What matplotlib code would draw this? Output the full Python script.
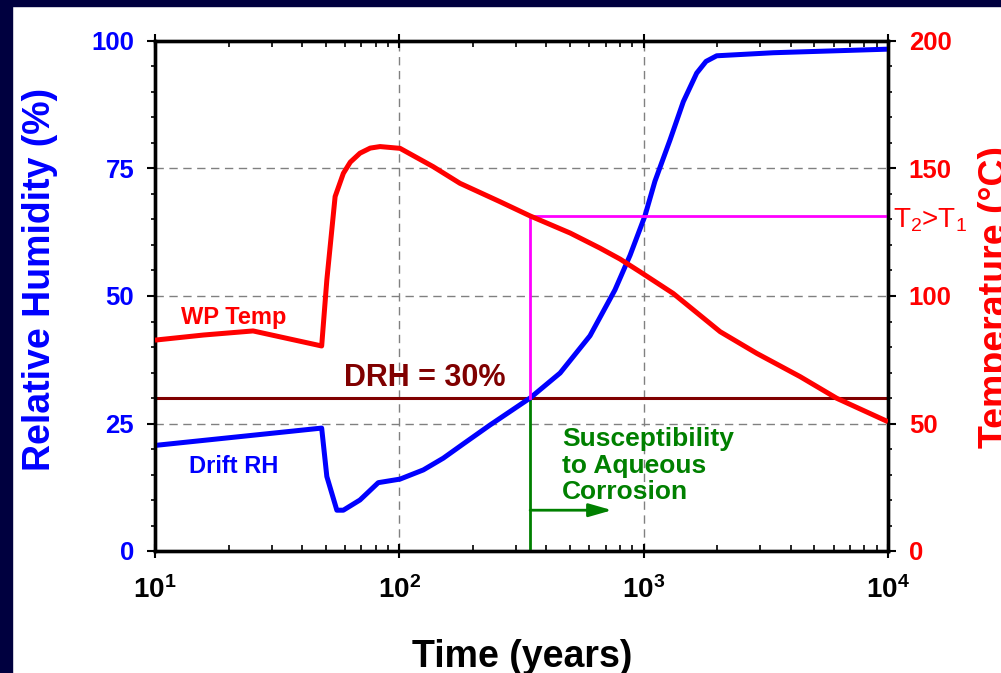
import numpy as np
import matplotlib.pyplot as plt
from matplotlib.patches import Rectangle
from matplotlib.ticker import LogLocator, MultipleLocator, FuncFormatter, NullFormatter

plt.rcParams['font.family'] = ['Liberation Sans', 'DejaVu Sans']
plt.rcParams['mathtext.fontset'] = 'custom'
plt.rcParams['mathtext.rm'] = 'Liberation Sans'
plt.rcParams['mathtext.bf'] = 'Liberation Sans:bold'
plt.rcParams['mathtext.it'] = 'Liberation Sans:italic'

# Drift relative humidity (%) vs time (years)
rh_years = [10, 48.1, 50.5, 55.5, 59, 69, 82, 100.7, 125.4, 151.3, 182.7, 235,
            343, 455, 603, 763, 880, 1012, 1112, 1282, 1453, 1648, 1800, 1990, 3396, 10000]
rh_values = [20.7, 24.1, 14.6, 8.0, 8.0, 10.0, 13.4, 14.1, 15.9, 18.2, 21.0, 24.7,
             30.0, 34.9, 42.2, 51.2, 58.0, 65.7, 72.5, 80.6, 88.1, 93.7, 96.0, 97.1, 97.7, 98.4]

# Waste package temperature (C) vs time (years)
temp_years = [10, 15.8, 25.2, 48.1, 50.5, 54.6, 59, 63, 69, 76, 83.4, 100.7, 137.7, 177, 258,
              343, 500, 662, 800, 966, 1321, 2056, 2904, 4365, 6166, 10000]
temp_values = [82.7, 84.7, 86.3, 80.4, 106.3, 139, 148.1, 152.5, 156, 158, 158.6, 157.9, 150.7,
               144.2, 137, 131.4, 124.7, 118.8, 114.5, 109.5, 101, 86, 77.5, 68.4, 59.9, 50.7]

drh = 30             # deliquescence RH (%)
t_drh = 343          # time when drift RH reaches the DRH
temp_at_drh = 131.4  # WP temperature at that time
arrow_end = 742
arrow_level = 8

BLUE = '#0000ff'
RED = '#ff0000'
GREEN = '#008000'
MAGENTA = '#ff00ff'
DARKRED = '#800000'

fig = plt.figure(figsize=(10.01, 6.73), dpi=100)
fig.patch.set_facecolor('white')
fig.patches.append(Rectangle((0, 0), 12 / 1001, 1, transform=fig.transFigure,
                             color='#00003f', zorder=-1))
fig.patches.append(Rectangle((0, 1 - 6 / 673), 1, 6 / 673, transform=fig.transFigure,
                             color='#00003f', zorder=-1))

ax = fig.add_axes([155 / 1001, 1 - 551 / 673, 733 / 1001, 510 / 673])
ax2 = ax.twinx()

ax.set_xscale('log')
ax.set_xlim(10, 1e4)
ax.set_ylim(0, 100)
ax2.set_ylim(0, 200)

# reference lines
ax.axhline(drh, color=DARKRED, lw=2.2, zorder=2)
ax.plot([t_drh, t_drh], [0, drh], color=GREEN, lw=2, zorder=3)
ax.annotate('', xy=(arrow_end, arrow_level), xytext=(t_drh, arrow_level),
            arrowprops=dict(arrowstyle='-|>,head_length=0.7,head_width=0.2',
                            color=GREEN, lw=2, mutation_scale=20,
                            shrinkA=0, shrinkB=0), zorder=3)
ax2.plot([t_drh, t_drh, 1e4], [drh * 2, temp_at_drh, temp_at_drh],
         color=MAGENTA, lw=2, zorder=2)

# curves
ax.plot(rh_years, rh_values, color=BLUE, lw=3.6, solid_joinstyle='round',
        solid_capstyle='butt', zorder=4)
ax2.plot(temp_years, temp_values, color=RED, lw=3.6, solid_joinstyle='round',
         solid_capstyle='butt', zorder=4)

# grid
ax.grid(True, which='major', color='#808080', ls=(0, (6, 4)), lw=1)
ax.set_axisbelow(True)

# ticks
ax.xaxis.set_major_locator(LogLocator(base=10, numticks=10))
ax.xaxis.set_minor_locator(LogLocator(base=10, subs=np.arange(2, 10), numticks=10))
ax.xaxis.set_minor_formatter(NullFormatter())
ax.xaxis.set_major_formatter(FuncFormatter(
    lambda v, p: r'$\mathbf{10^{%d}}$' % round(np.log10(v))))
ax.yaxis.set_major_locator(MultipleLocator(25))
ax.yaxis.set_minor_locator(MultipleLocator(5))
ax2.yaxis.set_major_locator(MultipleLocator(50))
ax2.yaxis.set_minor_locator(MultipleLocator(10))

ax.tick_params(axis='x', which='major', direction='inout', length=10, width=1.5,
               top=True, labelsize=20, pad=13, colors='black')
ax.tick_params(axis='x', which='minor', direction='in', length=4, width=1.2, top=True)
ax.tick_params(axis='y', which='major', direction='out', length=6, width=1.5,
               labelsize=18.5, labelcolor=BLUE, pad=9)
ax.tick_params(axis='y', which='minor', direction='out', length=3, width=1.2)
ax2.tick_params(axis='y', which='major', direction='out', length=6, width=1.5,
                labelsize=18.5, labelcolor=RED, pad=9)
ax2.tick_params(axis='y', which='minor', direction='out', length=3, width=1.2)

for a in (ax, ax2):
    for s in a.spines.values():
        s.set_linewidth(2.4)
for lbl in ax.get_yticklabels() + ax2.get_yticklabels():
    lbl.set_fontweight('bold')

# annotations
ax.text(21.05, 44.5, 'WP Temp', color=RED, fontsize=17, fontweight='bold',
        ha='center', va='baseline')
ax.text(21.05, 15.2, 'Drift RH', color=BLUE, fontsize=17, fontweight='bold',
        ha='center', va='baseline')
ax.text(126.8, 32.3, 'DRH = 30%', color=DARKRED, fontsize=22, fontweight='bold',
        ha='center', va='baseline')
ax.text(464.5, 10.2, 'Susceptibility\nto Aqueous\nCorrosion', color=GREEN,
        fontsize=19, fontweight='bold', ha='left', va='baseline', linespacing=1.12)
ax.text((893 - 155) / 733, (551 - 227) / 510, r'T$_2$>T$_1$', color=RED, fontsize=20,
        transform=ax.transAxes, ha='left', va='baseline', clip_on=False)

# axis titles
fig.text(40.5 / 1001, 1 - 279 / 673, 'Relative Humidity (%)', rotation=90,
         color=BLUE, fontsize=27, fontweight='bold', ha='center', va='center')
fig.text(995.5 / 1001, 1 - 297.5 / 673, 'Temperature (°C)', rotation=90,
         color=RED, fontsize=27, fontweight='bold', ha='center', va='center')
fig.text(522.5 / 1001, 1 - 667 / 673, 'Time (years)', color='black',
         fontsize=27, fontweight='bold', ha='center', va='baseline')

fig.savefig('out.png', dpi=100, facecolor='white')
